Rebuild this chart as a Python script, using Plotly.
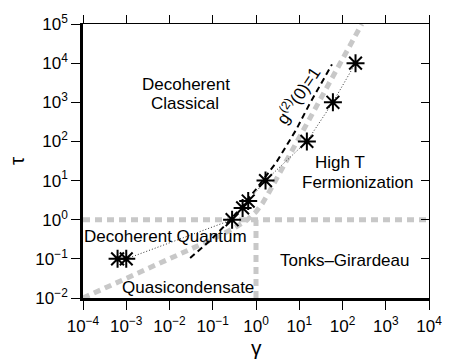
import plotly.graph_objects as go

# measured points (gamma, tau)
pts_gamma = [6.3e-4, 1.0e-3, 0.28, 0.49, 0.66, 1.66, 15, 60, 200]
pts_tau = [0.1, 0.1, 1.0, 2.0, 3.0, 10, 100, 1000, 1e4]

# g2(0)=1 dashed curve
g2_gamma = [0.03, 0.086, 0.2, 0.5, 1.0, 2.15, 3.0, 8.5, 17, 57]
g2_tau = [0.105, 0.29, 0.75, 2.3, 6.0, 18, 30, 200, 870, 9300]

# gray crossover boundary
bnd_gamma = [1e-4, 1e-2, 0.1, 0.3, 0.6, 1.0, 1.4, 2.0, 4.0, 20, 100, 280]
bnd_tau = [0.01, 0.1, 0.32, 0.6, 0.95, 1.6, 2.6, 5.0, 20, 550, 1.4e4, 1.0e5]

# regime borders
hline_gamma = [1e-4, 1e4]
hline_tau = [1.0, 1.0]
vline_gamma = [1.0, 1.0]
vline_tau = [1e-2, 1.0]

x_tickvals = [1e-4, 1e-3, 1e-2, 1e-1, 1e0, 1e1, 1e2, 1e3, 1e4]
x_ticktext = ["10<sup>−4</sup>", "10<sup>−3</sup>", "10<sup>−2</sup>", "10<sup>−1</sup>",
              "10<sup>0</sup>", "10<sup>1</sup>", "10<sup>2</sup>", "10<sup>3</sup>", "10<sup>4</sup>"]
y_tickvals = [1e-2, 1e-1, 1e0, 1e1, 1e2, 1e3, 1e4, 1e5]
y_ticktext = ["10<sup>−2</sup>", "10<sup>−1</sup>", "10<sup>0</sup>", "10<sup>1</sup>",
              "10<sup>2</sup>", "10<sup>3</sup>", "10<sup>4</sup>", "10<sup>5</sup>"]

FONT = "Liberation Sans, Arial, Helvetica, sans-serif"
GRAY = "#c8c8c8"

fig = go.Figure()
gray_line = dict(color=GRAY, width=5, dash="7px,5px")
fig.add_trace(go.Scatter(x=hline_gamma, y=hline_tau, mode="lines", line=gray_line, hoverinfo="skip"))
fig.add_trace(go.Scatter(x=vline_gamma, y=vline_tau, mode="lines", line=gray_line, hoverinfo="skip"))
fig.add_trace(go.Scatter(x=bnd_gamma, y=bnd_tau, mode="lines", line=gray_line, hoverinfo="skip"))
fig.add_trace(go.Scatter(x=g2_gamma, y=g2_tau, mode="lines",
                         line=dict(color="black", width=2, dash="6px,4px"), hoverinfo="skip"))
fig.add_trace(go.Scatter(x=pts_gamma, y=pts_tau, mode="lines",
                         line=dict(color="#333", width=1, dash="1px,2px"), hoverinfo="skip"))
fig.add_trace(go.Scatter(x=pts_gamma, y=pts_tau, mode="markers",
                         marker=dict(symbol="asterisk-open", size=15, color="black",
                                     line=dict(color="black", width=2))))
# dummy trace for the mirrored top/right axes
fig.add_trace(go.Scatter(x=[1], y=[1], xaxis="x2", yaxis="y2", mode="markers",
                         marker=dict(opacity=0), hoverinfo="skip"))

tickfont = dict(family=FONT, size=17, color="black")
fig.update_layout(
    width=454, height=360,
    margin=dict(l=83, r=16, t=20, b=62),
    paper_bgcolor="white", plot_bgcolor="white",
    showlegend=False,
    font=dict(family=FONT, color="black"),
    xaxis=dict(type="log", range=[-4, 4], tickvals=x_tickvals, ticktext=x_ticktext,
               ticks="outside", ticklen=9, tickwidth=1, tickcolor="black",
               ticklabelstandoff=2,
               showline=True, linewidth=2.5, linecolor="black",
               showgrid=False, zeroline=False, tickfont=tickfont),
    yaxis=dict(type="log", range=[-2, 5], tickvals=y_tickvals, ticktext=y_ticktext,
               ticks="outside", ticklen=9, tickwidth=1, tickcolor="black",
               showline=True, linewidth=2.5, linecolor="black",
               showgrid=False, zeroline=False, tickfont=tickfont),
    xaxis2=dict(type="log", range=[-4, 4], overlaying="x", side="top", tickvals=x_tickvals,
                ticks="outside", ticklen=8, tickwidth=1, tickcolor="black",
                showticklabels=False, showline=True, linewidth=1, linecolor="black",
                showgrid=False, zeroline=False),
    yaxis2=dict(type="log", range=[-2, 5], overlaying="y", side="right", tickvals=y_tickvals,
                ticks="inside", ticklen=8, tickwidth=1, tickcolor="black",
                showticklabels=False, showline=True, linewidth=1, linecolor="black",
                showgrid=False, zeroline=False),
)

def note(text, lx, ly, size=17, angle=0):
    fig.add_annotation(x=lx, y=ly, xref="x", yref="y", text=text, showarrow=False,
                       font=dict(family=FONT, size=size, color="black"),
                       textangle=angle, xanchor="center", yanchor="middle")

note("Decoherent", -1.63, 3.454)
note("Classical", -1.65, 2.962)
note("g<sup>(2)</sup>(0)=1", 0.95, 3.196, angle=-56)
note("High T", 1.946, 1.451)
note("Fermionization", 2.358, 0.940)
note("Decoherent Quantum", -2.083, -0.438)
note("Quasicondensate", -1.565, -1.738)
note("Tonks–Girardeau", 2.038, -1.050)

fig.add_annotation(text="γ", xref="paper", yref="paper", x=0.5, y=0, yanchor="top",
                   yshift=-36, showarrow=False, font=dict(family=FONT, size=21, color="black"))
fig.add_annotation(text="τ", xref="paper", yref="paper", x=0, y=0.5, xanchor="center",
                   xshift=-67, textangle=-90, showarrow=False,
                   font=dict(family=FONT, size=21, color="black"))

fig.write_html("out.html")
